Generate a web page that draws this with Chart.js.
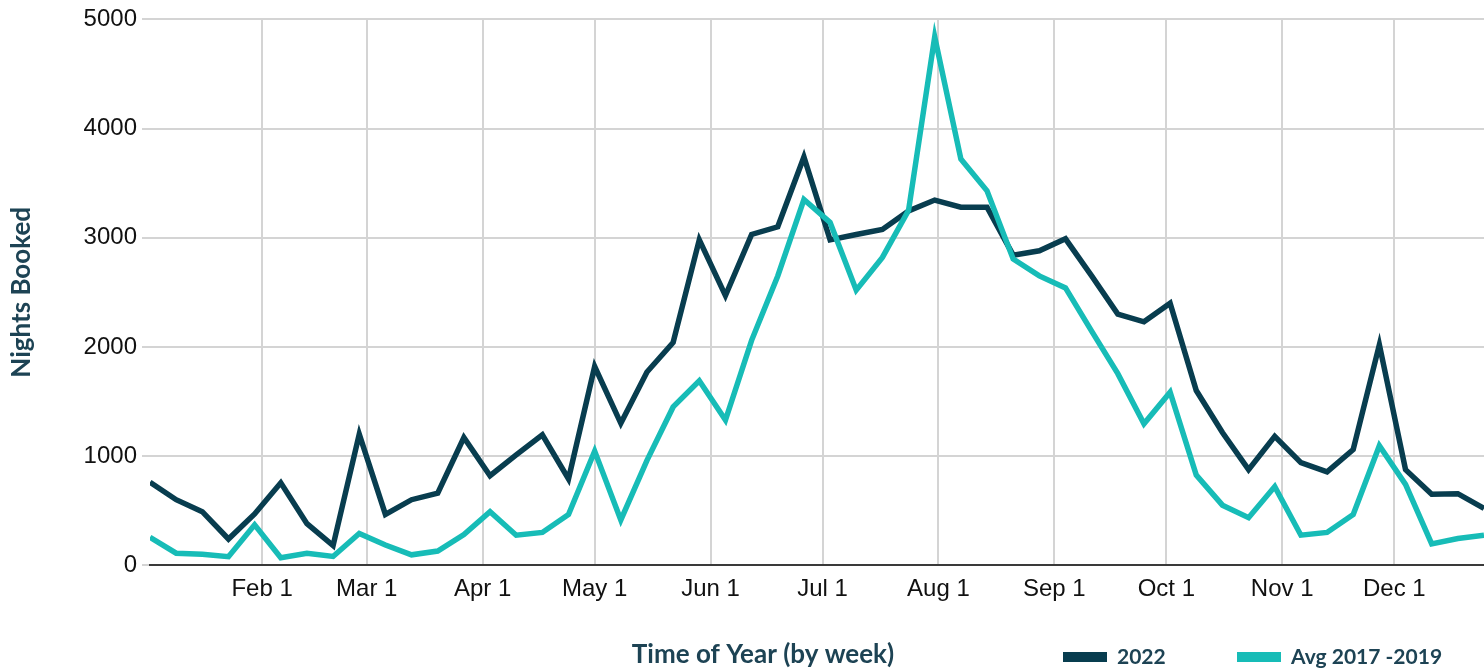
<!DOCTYPE html>
<html>
<head>
<meta charset="utf-8">
<script src="https://cdn.jsdelivr.net/npm/chart.js@4.4.1/dist/chart.umd.min.js"></script>
<style>
  html, body { margin: 0; padding: 0; background: #fff; }
  #wrap { width: 1484px; height: 671px; }
</style>
</head>
<body>
<div id="wrap"><canvas id="grafico_noites"></canvas></div>
<script>
// semanas (dia do ano em que cada semana começa, 2022)
const weekStart = [1, 8, 15, 22, 29, 36, 43, 50, 57, 64, 71, 78, 85, 92, 99, 106, 113, 120,
  127, 134, 141, 148, 155, 162, 169, 176, 183, 190, 197, 204, 211, 218, 225, 232, 239, 246,
  253, 260, 267, 274, 281, 288, 295, 302, 309, 316, 323, 330, 337, 344, 351, 358]

const nights2022 = [760, 600, 490, 240, 470, 755, 380, 180, 1200, 465, 600, 660, 1170, 820,
  1010, 1195, 790, 1820, 1300, 1770, 2040, 2980, 2470, 3030, 3100, 3740, 2980, 3030, 3075,
  3245, 3345, 3280, 3280, 2840, 2880, 2990, 2650, 2300, 2230, 2400, 1600, 1215, 875, 1180,
  940, 855, 1060, 2020, 875, 650, 655, 520]

const nightsAvg = [255, 110, 100, 78, 370, 68, 110, 80, 290, 185, 95, 130, 280, 490, 275,
  300, 465, 1045, 415, 960, 1450, 1690, 1330, 2060, 2650, 3350, 3140, 2520, 2820, 3250, 4840,
  3720, 3430, 2805, 2650, 2540, 2145, 1755, 1295, 1585, 825, 550, 435, 720, 275, 300, 465,
  1095, 740, 195, 245, 275]

// marcas do eixo x: primeiro dia de cada mês
const monthDays = [31, 59, 90, 120, 151, 181, 212, 243, 273, 304, 334]
const monthLabels = ['Feb 1', 'Mar 1', 'Apr 1', 'May 1', 'Jun 1', 'Jul 1', 'Aug 1', 'Sep 1', 'Oct 1', 'Nov 1', 'Dec 1']

const yTicks = [0, 1000, 2000, 3000, 4000, 5000]

const corTexto = '#1d4354'
const tituloX = 'Time of Year (by week)'

let ctx = document.getElementById('grafico_noites')

// título do eixo x e legenda na mesma linha, embaixo
const rodape = {
  id: 'rodape',
  afterDraw(chart) {
    const c = chart.ctx
    c.save()
    c.textBaseline = 'middle'
    c.fillStyle = corTexto
    c.font = 'bold 26px Lato'
    c.textAlign = 'center'
    c.fillText(tituloX, 763, 655)
    c.font = 'bold 21px Lato'
    c.textAlign = 'left'
    const posLegenda = [1063, 1237]
    chart.data.datasets.forEach((ds, i) => {
      const x = posLegenda[i]
      c.fillStyle = ds.borderColor
      c.fillRect(x, 652, 44, 10)
      c.fillStyle = corTexto
      c.fillText(ds.label, x + 54, 657)
    })
    c.restore()
  }
}

const data = {
  datasets: [{
    label: '2022',
    data: weekStart.map((d, i) => ({ x: d, y: nights2022[i] })),
    borderColor: '#083d4f',
    borderWidth: 5.5,
    order: 1
  }, {
    label: 'Avg 2017 -2019',
    data: weekStart.map((d, i) => ({ x: d, y: nightsAvg[i] })),
    borderColor: '#17bcb7',
    borderWidth: 5.5,
    order: 0
  }]
}

const fonteTicks = { family: 'Liberation Sans, Arial, sans-serif', size: 24 }

const config = {
  type: 'line',
  data,
  options: {
    responsive: true,
    maintainAspectRatio: false,
    animation: false,
    elements: {
      point: { radius: 0 },
      line: { tension: 0, borderJoinStyle: 'miter', fill: false }
    },
    layout: { padding: { top: 18, right: 0, bottom: 57, left: 0 } },
    plugins: {
      legend: { display: false },
      tooltip: { enabled: false }
    },
    scales: {
      x: {
        type: 'linear',
        min: weekStart[0],
        max: weekStart[weekStart.length - 1],
        afterBuildTicks: s => { s.ticks = monthDays.map(v => ({ value: v })) },
        ticks: {
          callback: (v, i) => monthLabels[i],
          autoSkip: false,
          maxRotation: 0,
          padding: 10,
          color: '#111',
          font: fonteTicks
        },
        grid: { color: '#d4d4d4', lineWidth: 2, drawTicks: false },
        border: { color: '#3a3a3a', width: 2 }
      },
      y: {
        min: yTicks[0],
        max: yTicks[yTicks.length - 1],
        afterBuildTicks: s => { s.ticks = yTicks.map(v => ({ value: v })) },
        afterFit: s => { s.width = 150 },
        ticks: { padding: 5, color: '#111', font: fonteTicks, callback: v => String(v) },
        grid: { color: '#d4d4d4', lineWidth: 2, tickLength: 8 },
        border: { display: false },
        title: {
          display: true,
          text: 'Nights Booked',
          color: corTexto,
          font: { family: 'Lato', size: 26, weight: 'bold' },
          padding: { top: 6, bottom: 0 }
        }
      }
    }
  },
  plugins: [rodape]
}

const graph = new Chart(ctx, config)
</script>
</body>
</html>
